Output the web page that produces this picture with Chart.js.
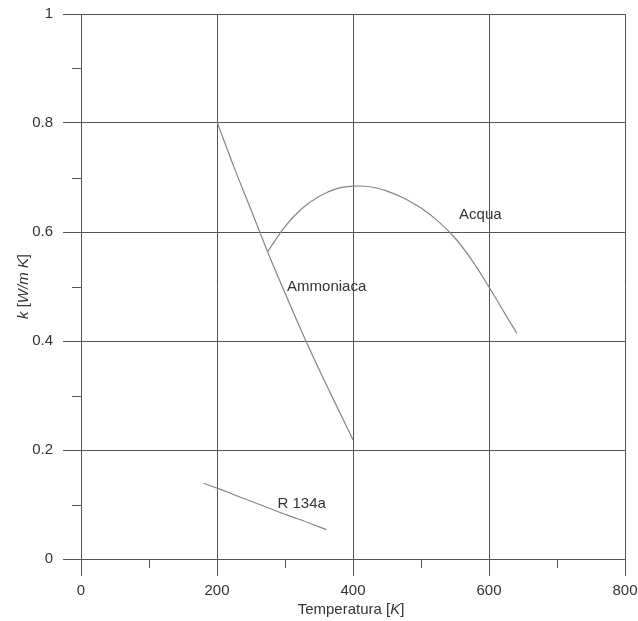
<!DOCTYPE html>
<html>
<head>
<meta charset="utf-8">
<script src="https://cdn.jsdelivr.net/npm/chart.js@4.4.1/dist/chart.umd.min.js"></script>
<style>
  html, body { margin: 0; padding: 0; background: #ffffff; }
  #wrap { width: 638px; height: 621px; }
</style>
</head>
<body>
<div id="wrap"><canvas id="kChart" width="638" height="621"></canvas></div>
<script>
// temperature [K] and thermal conductivity [W/m K]
const ammoniacaT = [200, 225, 250, 275, 300, 325, 350, 375, 400];
const ammoniacaK = [0.802, 0.719, 0.641, 0.562, 0.488, 0.416, 0.348, 0.283, 0.219];

const acquaT = [274, 300, 325, 350, 375, 400, 425, 450, 475, 500, 525, 550, 575, 600, 625, 641];
const acquaK = [0.563, 0.610, 0.643, 0.665, 0.679, 0.684, 0.683, 0.675, 0.662, 0.644, 0.620, 0.589, 0.548, 0.499, 0.447, 0.414];

const r134aT = [180, 200, 225, 250, 275, 300, 325, 350, 361];
const r134aK = [0.139, 0.130, 0.118, 0.106, 0.094, 0.082, 0.071, 0.059, 0.054];

// curve labels placed at data coordinates
const labelNames = ['Acqua', 'Ammoniaca', 'R 134a'];
const labelT = [556, 303, 289];
const labelK = [0.632, 0.500, 0.102];

// axis ticks
const xTicks = [0, 200, 400, 600, 800];
const xMinor = [100, 300, 500, 700];
const yTicks = [0, 0.2, 0.4, 0.6, 0.8, 1];
const yMinor = [0.1, 0.3, 0.5, 0.7, 0.9];

const colors = {
    grid: '#555555',
    curve: '#858585',
    text: '#333333'
};
const FONT = '"Liberation Sans", Arial, sans-serif';

function toPoints(xs, ys) {
    return xs.map((x, i) => ({ x: x, y: ys[i] }));
}

function curve(label, xs, ys) {
    return {
        label: label,
        data: toPoints(xs, ys),
        showLine: true,
        borderColor: colors.curve,
        borderWidth: 1.2,
        pointRadius: 0,
        tension: 0.4,
        fill: false
    };
}

// short minor tick marks outside the plot
const minorTicks = {
    id: 'minorTicks',
    afterDraw(chart) {
        const { ctx, chartArea, scales } = chart;
        ctx.save();
        ctx.strokeStyle = colors.grid;
        ctx.lineWidth = 1;
        ctx.beginPath();
        xMinor.forEach(v => {
            const px = Math.round(scales.x.getPixelForValue(v)) + 0.5;
            ctx.moveTo(px, chartArea.bottom);
            ctx.lineTo(px, chartArea.bottom + 9);
        });
        yMinor.forEach(v => {
            const py = Math.round(scales.y.getPixelForValue(v)) + 0.5;
            ctx.moveTo(chartArea.left, py);
            ctx.lineTo(chartArea.left - 9, py);
        });
        ctx.stroke();
        ctx.restore();
    }
};

// draws text runs with mixed normal / italic style
function drawRuns(ctx, runs, cx, cy) {
    const widths = runs.map(r => {
        ctx.font = (r.italic ? 'italic ' : '') + '15px ' + FONT;
        return ctx.measureText(r.text).width;
    });
    let x = cx - widths.reduce((a, b) => a + b, 0) / 2;
    runs.forEach((r, i) => {
        ctx.font = (r.italic ? 'italic ' : '') + '15px ' + FONT;
        ctx.fillText(r.text, x, cy);
        x += widths[i];
    });
}

const textLayer = {
    id: 'textLayer',
    afterDraw(chart) {
        const { ctx, chartArea, scales } = chart;
        ctx.save();
        ctx.fillStyle = colors.text;
        ctx.textBaseline = 'middle';
        ctx.textAlign = 'left';

        // curve names
        ctx.font = '15px ' + FONT;
        labelNames.forEach((name, i) => {
            ctx.fillText(name, scales.x.getPixelForValue(labelT[i]), scales.y.getPixelForValue(labelK[i]));
        });

        // x axis title
        drawRuns(ctx, [
            { text: 'Temperatura [' },
            { text: 'K', italic: true },
            { text: ']' }
        ], (chartArea.left + chartArea.right) / 2 - 2, chartArea.bottom + 51);

        // y axis title, rotated
        ctx.translate(24, (chartArea.top + chartArea.bottom) / 2);
        ctx.rotate(-Math.PI / 2);
        drawRuns(ctx, [
            { text: 'k', italic: true },
            { text: ' [' },
            { text: 'W/m K', italic: true },
            { text: ']' }
        ], 0, 0);
        ctx.restore();
    }
};

const chart = new Chart(document.getElementById('kChart').getContext('2d'), {
    type: 'scatter',
    data: {
        datasets: [
            curve('Ammoniaca', ammoniacaT, ammoniacaK),
            curve('Acqua', acquaT, acquaK),
            curve('R 134a', r134aT, r134aK)
        ]
    },
    options: {
        responsive: false,
        animation: false,
        events: [],
        layout: { padding: { left: 0, top: 14, right: 13, bottom: 0 } },
        plugins: {
            legend: { display: false },
            tooltip: { enabled: false }
        },
        scales: {
            x: {
                type: 'linear',
                min: 0,
                max: 800,
                afterFit(scale) {
                    scale.height = 62;
                    scale.paddingLeft = 0;
                    scale.paddingRight = 0;
                },
                afterBuildTicks(scale) { scale.ticks = xTicks.map(v => ({ value: v })); },
                grid: { color: colors.grid, tickColor: colors.grid, tickLength: 17, lineWidth: 1 },
                border: { display: true, color: colors.grid },
                ticks: {
                    color: colors.text,
                    font: { family: FONT, size: 15 },
                    padding: 6,
                    maxRotation: 0,
                    callback: v => String(v)
                }
            },
            y: {
                type: 'linear',
                min: 0,
                max: 1,
                afterFit(scale) {
                    scale.width = 81;
                    scale.paddingTop = 0;
                    scale.paddingBottom = 0;
                },
                afterBuildTicks(scale) { scale.ticks = yTicks.map(v => ({ value: v })); },
                grid: { color: colors.grid, tickColor: colors.grid, tickLength: 18, lineWidth: 1 },
                border: { display: true, color: colors.grid },
                ticks: {
                    color: colors.text,
                    font: { family: FONT, size: 15 },
                    padding: 10,
                    callback: v => String(Math.round(v * 10) / 10)
                }
            }
        }
    },
    plugins: [minorTicks, textLayer]
});
</script>
</body>
</html>
